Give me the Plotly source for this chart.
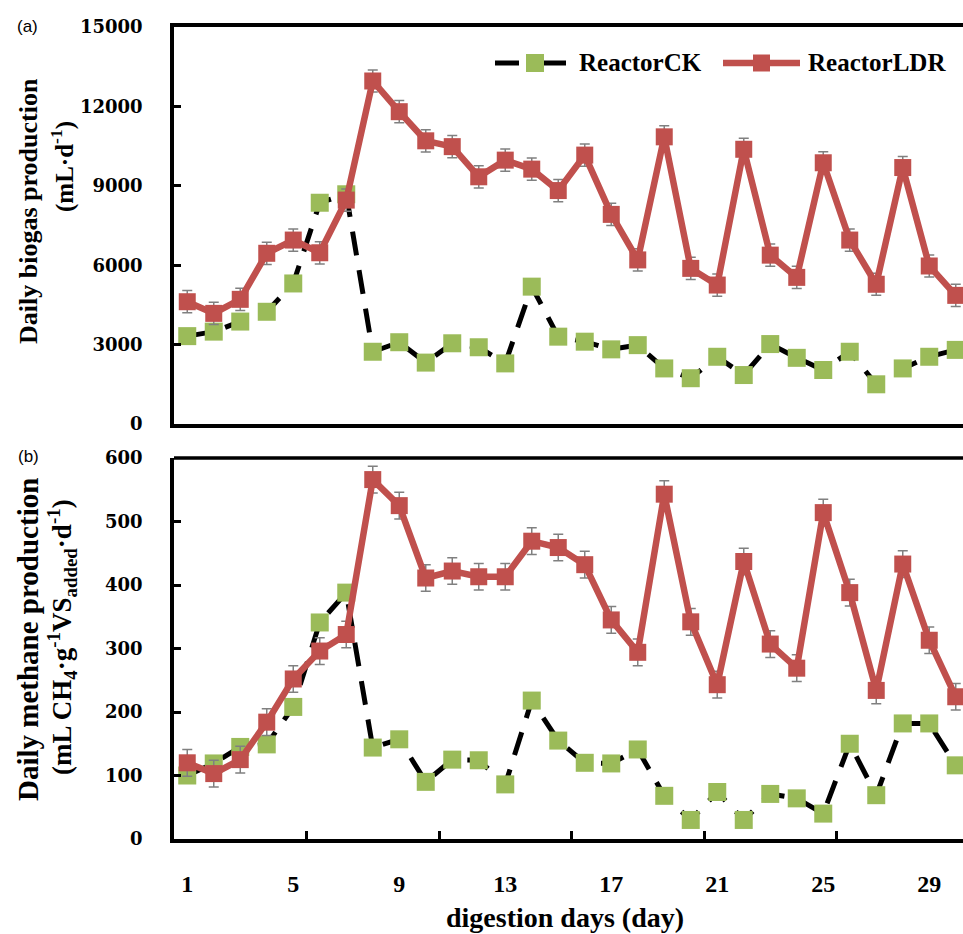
import plotly.graph_objects as go

days = list(range(1, 31))

# Panel (a): daily biogas production (mL/d)
biogas_ck = [3320, 3490, 3870, 4240, 5310, 8360, 8680, 2730, 3090, 2320,
             3050, 2900, 2290, 5190, 3300, 3110, 2820, 2980, 2100, 1730,
             2540, 1850, 3020, 2500, 2040, 2730, 1500, 2100, 2540, 2800]
biogas_ldr = [4620, 4180, 4710, 6450, 6950, 6470, 8460, 12960, 11800, 10700,
              10480, 9340, 9970, 9630, 8820, 10160, 7920, 6200, 10850, 5880,
              5250, 10380, 6380, 5540, 9870, 6950, 5280, 9690, 5970, 4860]
biogas_ldr_err = 420

# Panel (b): daily methane production (mL CH4 / g VS added / d)
methane_ck = [100, 119, 145, 149, 208, 341, 388, 144, 157, 90,
              125, 124, 86, 218, 155, 120, 119, 141, 68, 30,
              74, 30, 71, 64, 40, 150, 69, 182, 182, 116]
methane_ldr = [120, 103, 125, 184, 252, 296, 322, 566, 525, 411,
               422, 413, 413, 469, 459, 432, 345, 294, 543, 342,
               243, 437, 307, 269, 514, 388, 234, 433, 313, 224]
methane_ldr_err = 21

x_label_vals = [1, 5, 9, 13, 17, 21, 25, 29]
x_tick_marks = [5.5, 10.5, 15.5, 20.5, 25.5]
biogas_ticks = [0, 3000, 6000, 9000, 12000, 15000]
methane_ticks = [0, 100, 200, 300, 400, 500, 600]
series_names = ["ReactorCK", "ReactorLDR"]

GREEN = "#9BBB59"
RED = "#C0504D"
SERIF = "Liberation Serif, Times New Roman, serif"

W, H = 963, 934
def px(x):
    return x / W
def py(y):
    return 1 - y / H

fig = go.Figure()

def add_panel(ck, ldr, err, xa, ya):
    fig.add_trace(go.Scatter(
        x=days, y=ck, mode="lines+markers", name=series_names[0],
        line=dict(color="black", width=5, dash="24px,15px"),
        marker=dict(symbol="square", size=18, color=GREEN),
        xaxis=xa, yaxis=ya, showlegend=False))
    fig.add_trace(go.Scatter(
        x=days, y=ldr, mode="lines+markers", name=series_names[1],
        line=dict(color=RED, width=6.5),
        marker=dict(symbol="square", size=17, color=RED),
        error_y=dict(type="constant", value=err, color="#808080",
                     thickness=1.5, width=5),
        xaxis=xa, yaxis=ya, showlegend=False))

add_panel(biogas_ck, biogas_ldr, biogas_ldr_err, "x", "y")
add_panel(methane_ck, methane_ldr, methane_ldr_err, "x2", "y2")

x_dom = [px(174), 1.0]
xrange = [0.5, 0.5 + (963 - 174) / 26.5]

axis_common = dict(showline=True, linecolor="black", linewidth=3.5,
                   showgrid=False, zeroline=False, automargin=False)
ytickfont = dict(family="DejaVu Serif", size=18, color="black", weight="bold")

fig.update_layout(
    width=W, height=H,
    margin=dict(l=0, r=0, t=0, b=0, autoexpand=False),
    paper_bgcolor="white", plot_bgcolor="white",
    showlegend=False,
    xaxis=dict(domain=x_dom, range=xrange, anchor="y", mirror=True,
               showticklabels=False, ticks="", **axis_common),
    yaxis=dict(domain=[py(424), py(27)], range=[0, 15000], anchor="x",
               tickvals=biogas_ticks, ticktext=[str(v) for v in biogas_ticks],
               ticks="inside", ticklen=7, tickwidth=3,
               tickcolor="black", ticklabelstandoff=24, tickfont=ytickfont,
               **axis_common),
    xaxis2=dict(domain=x_dom, range=xrange, anchor="y2", mirror=False,
                tickvals=x_label_vals, ticks="outside", ticklen=20,
                tickcolor="rgba(0,0,0,0)",
                tickfont=dict(family=SERIF, size=24, color="black", weight="bold"),
                minor=dict(tickvals=x_tick_marks, ticks="inside", ticklen=8,
                           tickwidth=3, tickcolor="black"),
                **axis_common),
    yaxis2=dict(domain=[py(839), py(458)], range=[0, 600], anchor="x2",
                tickvals=methane_ticks, ticktext=[str(v) for v in methane_ticks],
                ticks="inside", ticklen=7, tickwidth=3,
                tickcolor="black", ticklabelstandoff=24, tickfont=ytickfont,
                **axis_common),
)

# top frame line of panel (b)
fig.add_shape(type="line", xref="x2 domain", yref="y2 domain", x0=0, x1=1, y0=1, y1=1,
              line=dict(color="black", width=3.5), layer="above")

def ann(text, x, y, size, angle=0, family=SERIF, bold=True, xanchor="center"):
    fig.add_annotation(text=text, x=px(x), y=py(y), xref="paper", yref="paper",
                       showarrow=False, textangle=angle, xanchor=xanchor, yanchor="middle",
                       font=dict(family=family, size=size, color="black",
                                 weight="bold" if bold else "normal"))

# Legend (drawn manually to match the long sample lines)
LY = 63
for x0, x1 in [(495, 519), (543, 566)]:
    fig.add_shape(type="line", xref="paper", yref="paper", x0=px(x0), x1=px(x1),
                  y0=py(LY), y1=py(LY), line=dict(color="black", width=5))
fig.add_shape(type="rect", xref="paper", yref="paper", x0=px(526), x1=px(544),
              y0=py(LY + 9), y1=py(LY - 9), line=dict(width=0), fillcolor=GREEN)
fig.add_shape(type="line", xref="paper", yref="paper", x0=px(723), x1=px(800),
              y0=py(LY), y1=py(LY), line=dict(color=RED, width=6.5))
fig.add_shape(type="rect", xref="paper", yref="paper", x0=px(753), x1=px(770),
              y0=py(LY + 8.5), y1=py(LY - 8.5), line=dict(width=0), fillcolor=RED)
ann("ReactorCK", 577, LY, 25, xanchor="left")
ann("ReactorLDR", 806, LY, 25, xanchor="left")

ann("(a)", 27, 27, 17, family="Liberation Sans, Arial, sans-serif", bold=False)
ann("(b)", 28, 457, 17, family="Liberation Sans, Arial, sans-serif", bold=False)
ann("Daily biogas production", 28, 211, 26, angle=-90)
ann("(mL·d<sup>-1</sup>)", 62, 167, 25, angle=-90)
ann("Daily methane production", 28, 640, 29, angle=-90)
ann("(mL CH<sub>4</sub>·g<sup>-1</sup>VS<sub>added</sub>·d<sup>-1</sup>)", 62, 637, 27, angle=-90)
ann("digestion days (day)", 565, 917, 28)

fig.write_html("out.html", config={"displayModeBar": False},
               post_script="document.body.style.margin='0';document.body.style.overflow='hidden';")
